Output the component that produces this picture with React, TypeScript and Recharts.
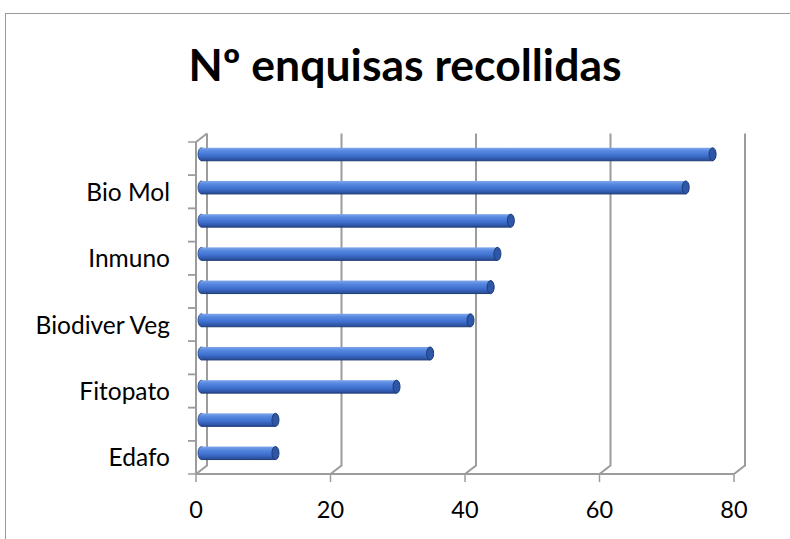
import { BarChart, Bar, XAxis, YAxis, CartesianGrid } from 'recharts';

const categories = [
  'Bioquímica',
  'Bio Mol',
  'Microbio',
  'Inmuno',
  'Xenética',
  'Biodiver Veg',
  'Fisio Veg',
  'Fitopato',
  'Ecoloxía',
  'Edafo',
];
const surveys = [76, 72, 46, 44, 43, 40, 34, 29, 11, 11];
const shownLabels = ['Bio Mol', 'Inmuno', 'Biodiver Veg', 'Fitopato', 'Edafo'];
const xTicks = [0, 20, 40, 60, 80];

const data = categories.map((name, i) => ({ name, value: surveys[i] }));

const WIDTH = 790;
const HEIGHT = 539;
const PLOT_TOP = 142;
const PLOT_BOTTOM = 474;
const Y_AXIS_W = 196;
const DEPTH_X = 11;
const DEPTH_Y = 8.5;
const GRID = '#9c9c9c';
const FONT = 'Lato, "Open Sans", sans-serif';

const band = (PLOT_BOTTOM - PLOT_TOP) / categories.length;

function GridLine(props: any) {
  const { x1, y1, y2 } = props;
  const bx = x1 + DEPTH_X;
  return (
    <polyline
      points={`${bx},${y1 - DEPTH_Y} ${bx},${y2 - DEPTH_Y} ${x1},${y2}`}
      fill='none'
      stroke={GRID}
      strokeWidth={2}
    />
  );
}

function CategoryTick(props: any) {
  const { x, y, payload, index } = props;
  const axisX = x + 26;
  const top = y - band / 2;
  const bottom = y + band / 2;
  return (
    <g>
      <line x1={axisX - 8} x2={axisX} y1={top} y2={top} stroke={GRID} strokeWidth={1.5} />
      <line x1={axisX - 8} x2={axisX} y1={bottom} y2={bottom} stroke={GRID} strokeWidth={1.5} />
      {index === 0 && (
        <line
          x1={axisX}
          y1={top}
          x2={axisX + DEPTH_X}
          y2={top - DEPTH_Y}
          stroke={GRID}
          strokeWidth={2}
        />
      )}
      {shownLabels.includes(payload.value) && (
        <text
          x={x}
          y={y + 9}
          textAnchor='end'
          fontSize={24.5}
          fontFamily={FONT}
          fill='#000'
        >
          {payload.value}
        </text>
      )}
    </g>
  );
}

function ValueTick(props: any) {
  const { x, y, payload } = props;
  return (
    <text
      x={x}
      y={y + 34}
      textAnchor='middle'
      fontSize={23.5}
      fontFamily={FONT}
      fill='#000'
    >
      {payload.value}
    </text>
  );
}

function CylinderBar(props: any) {
  const { x, y, width, height } = props;
  if (!width || width <= 0) return null;
  const bx = x + DEPTH_X / 2;
  const by = y - DEPTH_Y / 2;
  const cy = by + height / 2;
  const r = 3.5;
  return (
    <g>
      <ellipse cx={bx} cy={cy} rx={r} ry={height / 2} fill='url(#barBody)' stroke='#22437f' strokeWidth={0.8} />
      <rect x={bx} y={by} width={width} height={height} fill='url(#barBody)' />
      <line x1={bx} x2={bx + width} y1={by + height} y2={by + height} stroke='#1f3d78' strokeWidth={1} />
      <ellipse cx={bx + width} cy={cy} rx={r} ry={height / 2} fill='#2f57a8' stroke='#1d3a74' strokeWidth={1} />
    </g>
  );
}

export default function App() {
  return (
    <div
      style={{
        position: 'absolute',
        left: 0,
        top: 0,
        width: WIDTH,
        height: HEIGHT,
        overflow: 'hidden',
        background: '#fff',
      }}
    >
      <div
        style={{
          position: 'absolute',
          left: 5,
          top: 13,
          width: 900,
          height: 700,
          border: '1px solid #9a9a9a',
        }}
      />
      <div
        style={{
          position: 'absolute',
          left: 0,
          top: 34,
          width: 810,
          textAlign: 'center',
          fontFamily: FONT,
          fontWeight: 700,
          fontSize: 44.5,
          color: '#000',
          lineHeight: '60px',
        }}
      >
        Nº enquisas recollidas
      </div>
      <div style={{ position: 'absolute', left: 0, top: 0 }}>
        <BarChart
          width={WIDTH}
          height={HEIGHT}
          data={data}
          layout='vertical'
          margin={{ top: PLOT_TOP, right: 56, left: 0, bottom: HEIGHT - PLOT_BOTTOM - 40 }}
        >
          <defs>
            <linearGradient id='barBody' x1='0' y1='0' x2='0' y2='1'>
              <stop offset='0%' stopColor='#80a6ec' />
              <stop offset='25%' stopColor='#5688e0' />
              <stop offset='60%' stopColor='#3f70cf' />
              <stop offset='100%' stopColor='#274a93' />
            </linearGradient>
          </defs>
          <CartesianGrid horizontal={false} vertical={<GridLine />} />
          <XAxis
            type='number'
            domain={[0, 80]}
            ticks={xTicks}
            height={40}
            axisLine={{ stroke: GRID, strokeWidth: 2 }}
            tickLine={{ stroke: GRID, strokeWidth: 1.5 }}
            tickSize={8}
            tick={<ValueTick />}
          />
          <YAxis
            type='category'
            dataKey='name'
            width={Y_AXIS_W}
            interval={0}
            axisLine={{ stroke: GRID, strokeWidth: 2 }}
            tickLine={false}
            tickSize={8}
            tickMargin={18}
            tick={<CategoryTick />}
          />
          <Bar
            dataKey='value'
            barSize={13}
            isAnimationActive={false}
            shape={<CylinderBar />}
          />
        </BarChart>
      </div>
    </div>
  );
}
